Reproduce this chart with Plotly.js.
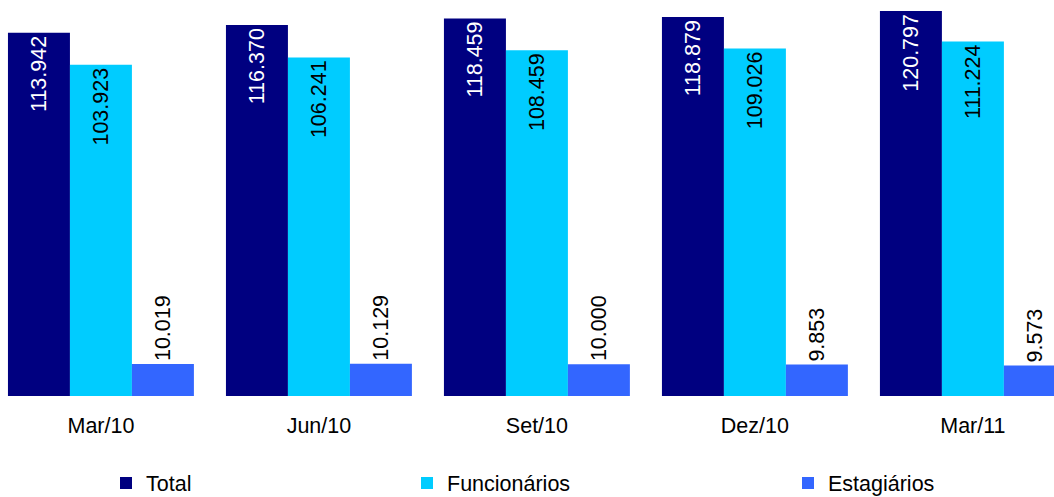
<!DOCTYPE html>
<html>
<head>
<meta charset="utf-8">
<script src="https://cdn.plot.ly/plotly-3.0.1.min.js"></script>
<style>html,body{margin:0;padding:0;background:#fff;}#chart{width:1054px;height:497px;}</style>
</head>
<body>
<div id="chart"></div>
<script>
const categories = ["Mar/10", "Jun/10", "Set/10", "Dez/10", "Mar/11"];
const total = [113942, 116370, 118459, 118879, 120797];
const funcionarios = [103923, 106241, 108459, 109026, 111224];
const estagiarios = [10019, 10129, 10000, 9853, 9573];
const seriesNames = ["Total", "Funcionários", "Estagiários"];

const FONT = "Liberation Sans, Arial, sans-serif";
const FS = 21.5;

const common = {
  type: "bar",
  x: categories,
  texttemplate: "%{y:,.0f}",
  textangle: -90,
  cliponaxis: true,
  constraintext: "none",
  hoverinfo: "skip"
};

const traces = [
  Object.assign({}, common, {
    name: seriesNames[0], y: total, legend: "legend",
    marker: {color: "#000080"},
    textposition: "inside", insidetextanchor: "end",
    insidetextfont: {family: FONT, size: FS, color: "#ffffff"}
  }),
  Object.assign({}, common, {
    name: seriesNames[1], y: funcionarios, legend: "legend2",
    marker: {color: "#00CCFF"},
    textposition: "inside", insidetextanchor: "end",
    insidetextfont: {family: FONT, size: FS, color: "#000000"}
  }),
  Object.assign({}, common, {
    name: seriesNames[2], y: estagiarios, legend: "legend3",
    marker: {color: "#3366FF"},
    textposition: "outside",
    outsidetextfont: {family: FONT, size: FS, color: "#000000"}
  })
];

const legendBase = {
  orientation: "h", yref: "container", yanchor: "middle", xanchor: "left", y: 0.028,
  font: {family: FONT, size: FS, color: "#000"}, bgcolor: "rgba(0,0,0,0)"
};

const layout = {
  width: 1054, height: 497,
  margin: {l: 0, r: 0, t: 0, b: 101, autoexpand: false},
  paper_bgcolor: "#fff", plot_bgcolor: "#fff",
  separators: ",.",
  barmode: "group",
  bargap: 0.147,
  bargroupgap: 0,
  font: {family: FONT, size: FS, color: "#000"},
  xaxis: {
    type: "category",
    range: [-0.463, 4.372],
    showgrid: false, zeroline: false, showline: false, ticks: "",
    tickfont: {family: FONT, size: FS, color: "#000"},
    ticklabelstandoff: 14
  },
  yaxis: {
    range: [0, 124250],
    visible: false, showgrid: false, zeroline: false
  },
  legend: Object.assign({}, legendBase, {x: 106 / 1054}),
  legend2: Object.assign({}, legendBase, {x: 407 / 1054}),
  legend3: Object.assign({}, legendBase, {x: 788 / 1054}),
  showlegend: true
};

Plotly.newPlot("chart", traces, layout, {displayModeBar: false, staticPlot: true});
</script>
</body>
</html>
